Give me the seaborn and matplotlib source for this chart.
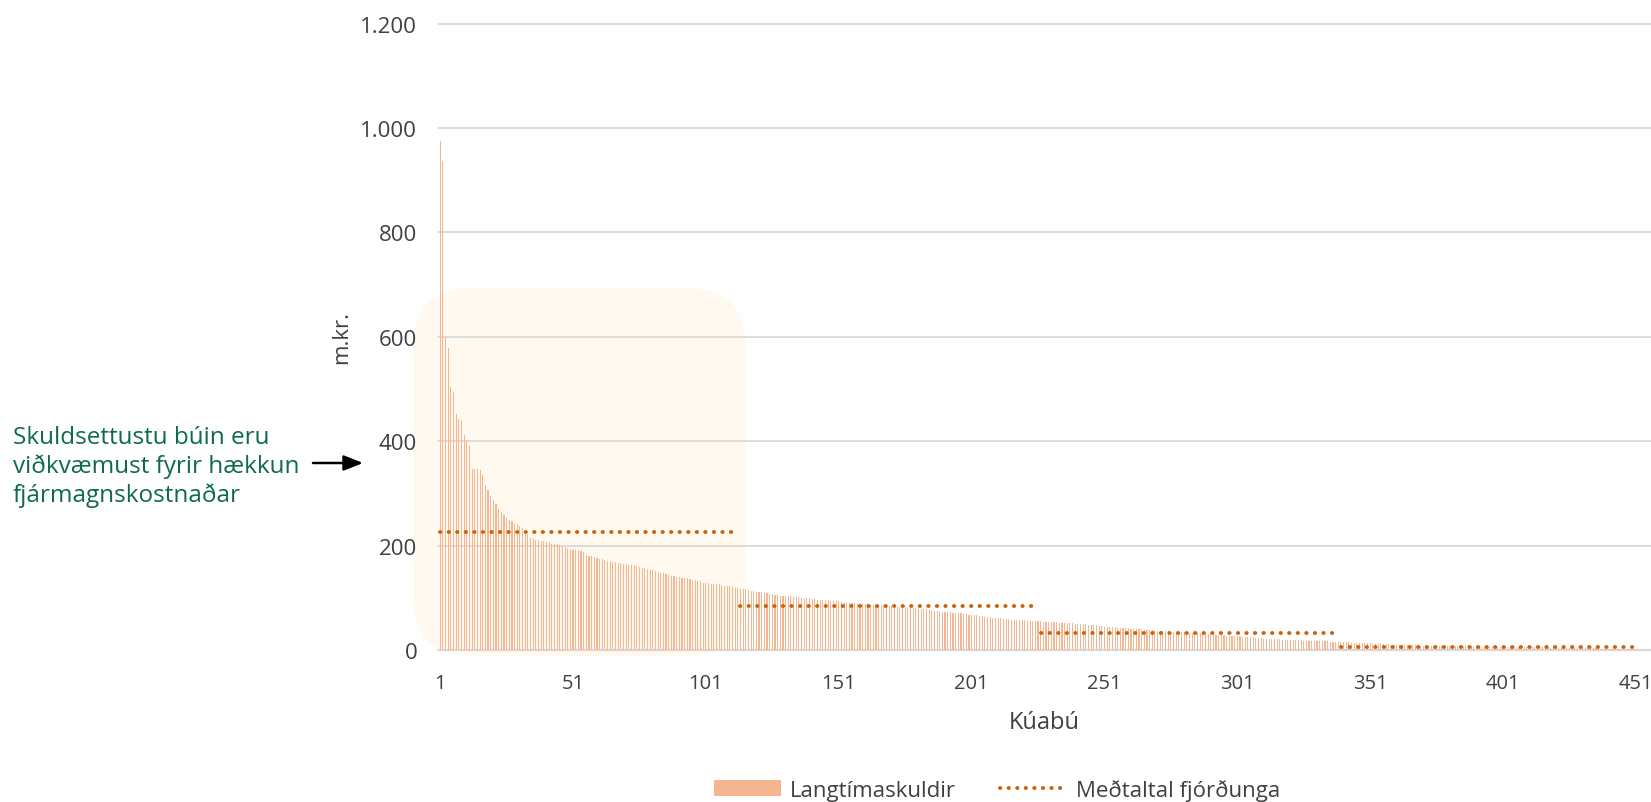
import numpy as np
import pandas as pd
import matplotlib
matplotlib.use("Agg")
import matplotlib.pyplot as plt
from matplotlib.patches import FancyBboxPatch
from matplotlib.transforms import IdentityTransform
from matplotlib.ticker import FuncFormatter
import seaborn as sns

# Langtímaskuldir kúabúa (m.kr.), raðað eftir stærð, einn fjórðungur í hverjum lista
skuldir_q1 = [976, 937, 600, 579, 503, 494, 452, 443, 440, 412,
              402, 390, 346, 346, 346, 344, 335, 316, 306, 295,
              288, 280, 271, 265, 258, 252, 250, 247, 243, 242,
              238, 234, 228, 222, 214, 213, 211, 210, 209, 208,
              207, 206, 204, 204, 203, 202, 200, 198, 195, 194,
              192, 192, 191, 190, 187, 182, 181, 180, 178, 176,
              175, 174, 173, 171, 170, 169, 168, 167, 166, 165,
              164, 163, 163, 162, 161, 159, 158, 157, 156, 154,
              153, 152, 149, 148, 147, 145, 143, 141, 141, 140,
              139, 138, 138, 137, 136, 135, 134, 133, 132, 129,
              128, 128, 127, 127, 126, 126, 124, 123, 123, 122,
              121, 119, 118]
skuldir_q2 = [117, 117, 116, 115, 114, 113, 112,
              112, 111, 110, 109, 108, 107, 106, 105, 104, 104,
              103, 103, 103, 102, 102, 101, 100, 100, 99, 99,
              98, 97, 96, 96, 96, 95, 95, 94, 94, 93,
              93, 92, 92, 91, 91, 90, 90, 89, 89, 88,
              88, 88, 87, 87, 87, 86, 86, 85, 85, 85,
              84, 84, 83, 83, 82, 82, 81, 81, 80, 80,
              79, 79, 78, 78, 77, 76, 75, 74, 74, 73,
              73, 72, 72, 71, 71, 70, 70, 69, 69, 68,
              68, 67, 67, 66, 65, 64, 63, 63, 62, 62,
              61, 61, 60, 59, 59, 58, 58, 58, 57, 57,
              57, 56, 56, 56, 55, 55]
skuldir_q3 = [55, 54, 54, 54,
              53, 53, 53, 52, 52, 52, 52, 51, 51, 50,
              50, 50, 49, 49, 48, 48, 48, 47, 46, 46,
              45, 45, 44, 44, 44, 43, 43, 43, 42, 42,
              41, 41, 40, 40, 40, 39, 39, 39, 38, 38,
              37, 37, 36, 36, 36, 35, 35, 35, 34, 34,
              34, 33, 33, 33, 33, 32, 32, 31, 31, 30,
              30, 29, 29, 28, 28, 28, 27, 27, 27, 26,
              26, 26, 25, 25, 25, 24, 24, 23, 23, 23,
              22, 22, 22, 21, 21, 21, 21, 20, 20, 20,
              20, 19, 19, 19, 19, 18, 18, 18, 18, 18,
              17, 17, 17, 17, 17, 16, 16, 16, 16]
skuldir_q4 = [16, 15, 15, 15, 14, 14, 14, 13, 13, 13, 13,
              13, 12, 12, 12, 12, 11, 11, 11, 10, 10,
              10, 10, 10, 9, 9, 9, 9, 9, 9, 8,
              8, 8, 8, 8, 8, 8, 8, 8, 8, 8,
              8, 8, 8, 7, 7, 7, 7, 7, 7, 7,
              7, 6, 6, 6, 6, 6, 6, 6, 6, 6,
              6, 6, 6, 6, 6, 5, 5, 5, 5, 5,
              5, 5, 5, 5, 5, 5, 4, 4, 4, 4,
              4, 4, 4, 4, 4, 4, 4, 3, 3, 3,
              3, 3, 3, 3, 3, 3, 3, 2, 2, 2,
              2, 2, 2, 2, 2, 1, 1, 1, 1, 1, 0.5, 0.5]

# meðaltal hvers fjórðungs (lesið af myndinni)
medaltal_fjordunga = [226, 85, 33, 6.5]

x_tick_labels = [1, 51, 101, 151, 201, 251, 301, 351, 401, 451]
y_ticks = [0, 200, 400, 600, 800, 1000, 1200]

skyring = "Skuldsettustu búin eru\nviðkvæmust fyrir hækkun\nfjármagnskostnaðar"

skuldir = skuldir_q1 + skuldir_q2 + skuldir_q3 + skuldir_q4
df = pd.DataFrame({"bu": np.arange(1, len(skuldir) + 1), "skuld": skuldir})

sns.set_theme(style="white")
plt.rcParams["font.family"] = ["Open Sans", "DejaVu Sans"]

W, H = 1651, 803
fig = plt.figure(figsize=(W / 100, H / 100), dpi=100)
ax = fig.add_axes([438 / W, 152 / H, 1 - 438 / W, (651 - 24.7) / H])
ax.patch.set_alpha(0)
ax.set_zorder(1)

# ljós bakgrunnur fyrir skuldsettustu búin
box = FancyBboxPatch((413, H - 657), 333, 368,
                     boxstyle="round,pad=0,rounding_size=60",
                     transform=IdentityTransform(),
                     facecolor="#FFF9EF", edgecolor="none", zorder=0)
fig.add_artist(box)

bar_color = "#F5B590"
line_color = "#C8640F"

sns.barplot(data=df, x="bu", y="skuld", color=bar_color, saturation=1,
            width=0.42, linewidth=0, errorbar=None, ax=ax,
            label="Langtímaskuldir")

n = len(skuldir_q1)
for i, m in enumerate(medaltal_fjordunga):
    x0 = i * n
    x1 = x0 + n - 1
    sns.lineplot(x=[x0, x1], y=[m, m], ax=ax, color=line_color, lw=2.8,
                 linestyle=(0, (0.1, 2.1)), dash_capstyle="round",
                 label="Meðtaltal fjórðunga" if i == 0 else "_nolegend_")

ax.set_xticks([t - 1 for t in x_tick_labels])
ax.set_xticklabels([str(t) for t in x_tick_labels])
ax.set_xlim(-0.83, 455.7)
ax.set_ylim(0, 1200)
ax.set_yticks(y_ticks)
ax.yaxis.set_major_formatter(FuncFormatter(lambda v, p: f"{int(v):,}".replace(",", ".")))

ax.grid(axis="y", color="#D9D9D9", lw=1.3)
ax.grid(axis="x", visible=False)
for gl in ax.get_ygridlines():
    gl.set_clip_on(False)
ax.set_axisbelow(True)
sns.despine(ax=ax, left=True, bottom=True)
ax.axhline(0, color="#D9D9D9", lw=1.6, zorder=0.5, clip_on=False)

ax.tick_params(axis="both", length=0, colors="#404040")
ax.tick_params(axis="y", pad=15, labelsize=16)
ax.tick_params(axis="x", pad=16.5, labelsize=14.5)
ax.set_xlabel("Kúabú", fontsize=17, color="#404040", labelpad=12)
ax.set_ylabel("m.kr.", fontsize=16, color="#404040", labelpad=6)

if ax.get_legend() is not None:
    ax.get_legend().remove()
handles, labels = ax.get_legend_handles_labels()
order = [labels.index("Langtímaskuldir"), labels.index("Meðtaltal fjórðunga")]
fig.legend([handles[k] for k in order], [labels[k] for k in order],
           loc="center", bbox_to_anchor=(997 / W, 12 / H),
           ncol=2, frameon=False, fontsize=16, handlelength=3.0,
           columnspacing=2.0, handletextpad=0.4, labelcolor="#404040")

fig.text(13 / W, (H - 467) / H, skyring, color="#0E6B47", fontsize=17.5,
         ha="left", va="center", linespacing=1.22)
ax.annotate("", xy=(363, H - 464), xytext=(313, H - 464),
            xycoords="figure pixels", textcoords="figure pixels",
            arrowprops=dict(arrowstyle="-|>,head_length=0.4,head_width=0.16",
                            color="black", lw=1.8, mutation_scale=29,
                            shrinkA=0, shrinkB=0))

fig.savefig("out.png", dpi=100)
